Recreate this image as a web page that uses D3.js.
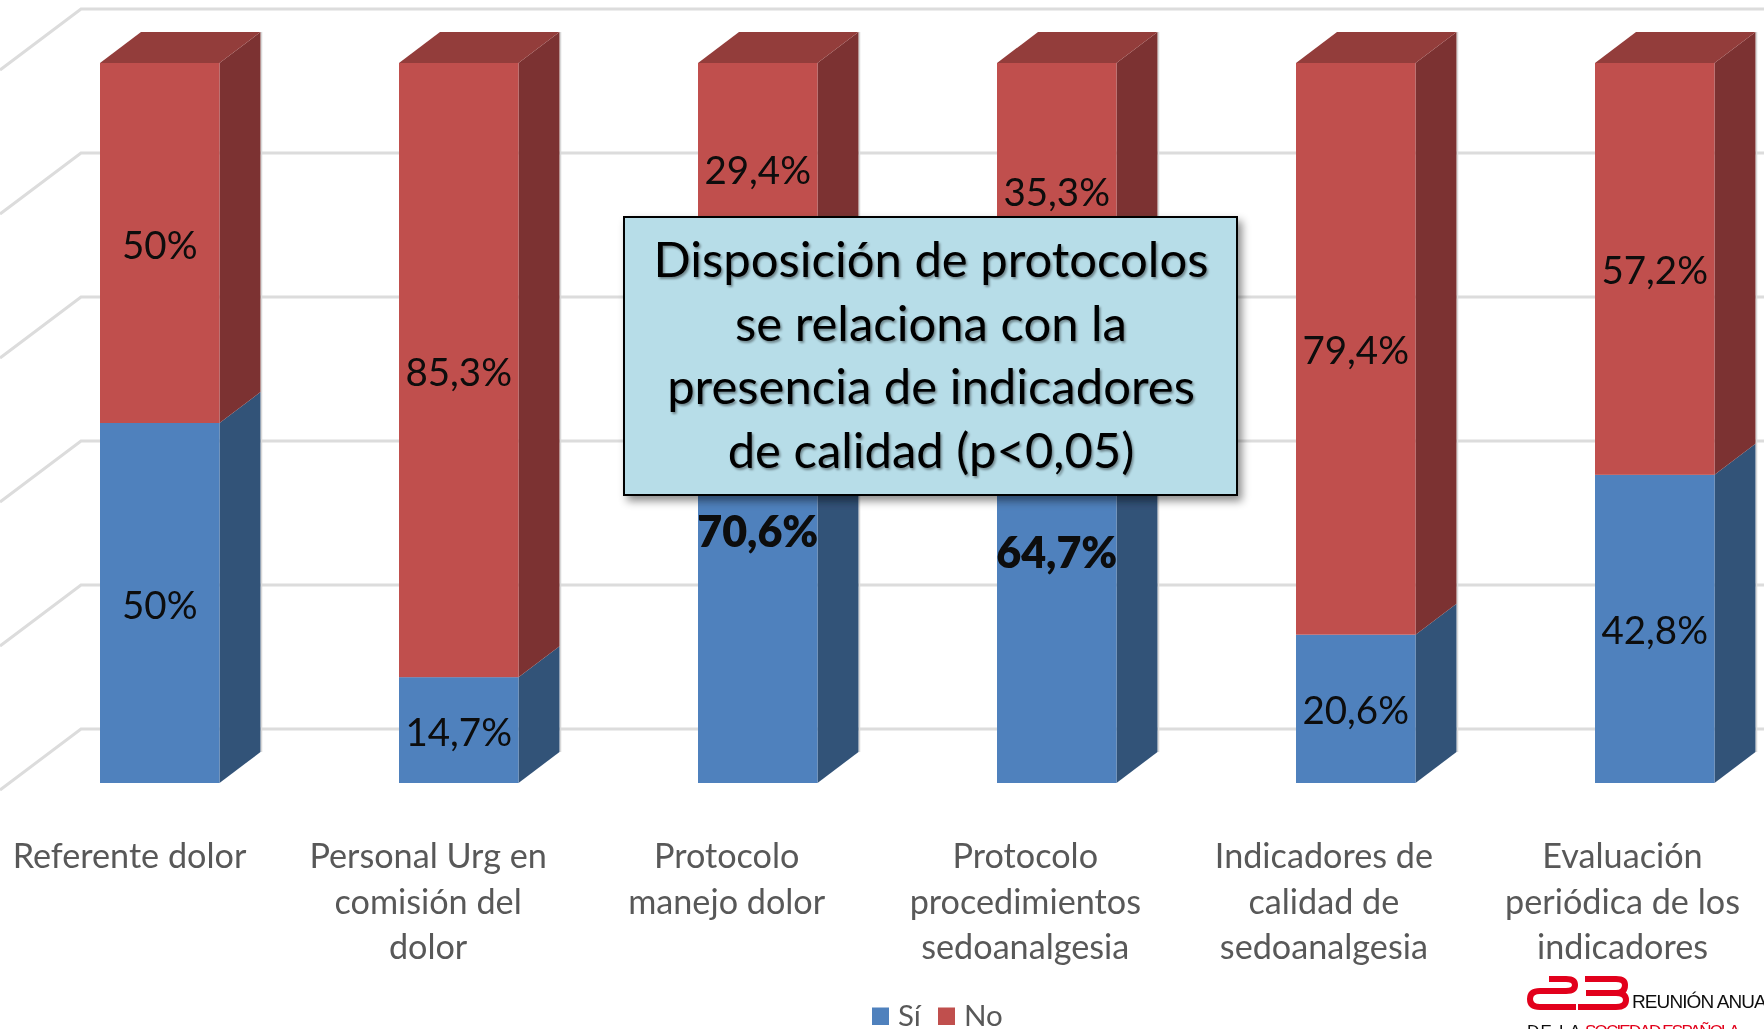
<!DOCTYPE html>
<html><head><meta charset="utf-8">
<style>html,body{margin:0;padding:0;background:#fff;overflow:hidden}svg{display:block}</style>
<script src="https://cdn.jsdelivr.net/npm/d3@7/dist/d3.min.js"></script>
</head><body><svg id="c" width="1764" height="1029"></svg>
<script>
const categories=[["Referente dolor"],["Personal Urg en","comisión del","dolor"],["Protocolo","manejo dolor"],["Protocolo","procedimientos","sedoanalgesia"],["Indicadores de","calidad de","sedoanalgesia"],["Evaluación","periódica de los","indicadores"]];
const siValues=[50,14.7,70.6,64.7,20.6,42.8];
const noValues=[50,85.3,29.4,35.3,79.4,57.2];
const siLabels=["50%","14,7%","70,6%","64,7%","20,6%","42,8%"];
const noLabels=["50%","85,3%","29,4%","35,3%","79,4%","57,2%"];
const boldSi=[false,false,true,true,false,false];
const gridTicks=[0,20,40,60,80,100];
const legendNames=["Sí","No"];
const calloutLines=["Disposición de protocolos","se relaciona con la","presencia de indicadores","de calidad (p<0,05)"];

const font="Lato, 'Open Sans', sans-serif";
const svg=d3.select("#c");
const defs=svg.append("defs");
defs.append("filter").attr("id","soft").append("feGaussianBlur").attr("stdDeviation",0.6);
const sh=defs.append("filter").attr("id","shadow").attr("x","-5%").attr("y","-5%").attr("width","112%").attr("height","115%");
sh.append("feDropShadow").attr("dx",4).attr("dy",5).attr("stdDeviation",4).attr("flood-color","#000").attr("flood-opacity",0.45);
const ts=defs.append("filter").attr("id","textshadow").attr("x","-5%").attr("y","-10%").attr("width","110%").attr("height","125%");
ts.append("feDropShadow").attr("dx",1.5).attr("dy",2).attr("stdDeviation",1.2).attr("flood-color","#000").attr("flood-opacity",0.4);

const idx=categories.map((d,i)=>i);
const barLeft=d3.scaleLinear().domain([0,5]).range([100,1595]);
const barW=119.5, dx=41, dy=31;
const yBar=d3.scaleLinear().domain([0,100]).range([783,63]);
const yWall=d3.scaleLinear().domain([0,100]).range([729,9]);
const xLabel=d3.scalePoint().domain(idx).range([129.5,1622.5]);

const root=svg.append("g").attr("filter","url(#soft)");
const grid=root.append("g");
grid.selectAll("path").data(gridTicks).join("path")
 .attr("d",v=>d3.line()([[1764,yWall(v)],[81,yWall(v)],[0,yWall(v)+61]]))
 .attr("fill","none").attr("stroke","#dcdcdc").attr("stroke-width",3);

const bars=root.append("g").selectAll("g").data(idx).join("g");
function poly(sel,ptsFn,fill){sel.append("polygon").attr("points",i=>ptsFn(i).map(p=>p.join(",")).join(" ")).attr("fill",fill);}
bars.append("line").attr("x1",i=>barLeft(i)+barW+dx+1).attr("x2",i=>barLeft(i)+barW+dx+1)
 .attr("y1",yBar(100)-dy).attr("y2",i=>yBar(0)-dy).attr("stroke","#d8d8d8").attr("stroke-width",1.5);
poly(bars,i=>{const X=barLeft(i)+barW,t=yBar(siValues[i]),b=yBar(0);return [[X,t],[X+dx,t-dy],[X+dx,b-dy],[X,b]];},"#325278");
bars.append("rect").attr("x",barLeft).attr("y",i=>yBar(siValues[i])).attr("width",barW).attr("height",i=>yBar(0)-yBar(siValues[i])).attr("fill","#4f81bd");
poly(bars,i=>{const X=barLeft(i)+barW,t=yBar(100),b=yBar(siValues[i]);return [[X,t],[X+dx,t-dy],[X+dx,b-dy],[X,b]];},"#7b3231");
poly(bars,i=>{const L=barLeft(i),t=yBar(100);return [[L,t],[L+barW,t],[L+barW+dx,t-dy],[L+dx,t-dy]];},"#933c3a");
bars.append("rect").attr("x",barLeft).attr("y",yBar(100)).attr("width",barW).attr("height",i=>yBar(100-noValues[i])-yBar(100)).attr("fill","#c0504d");
const lab=bars.append("g").attr("text-anchor","middle").attr("font-family",font).attr("fill","#0a0a0a");
lab.append("text").attr("x",i=>barLeft(i)+barW/2).attr("y",i=>(yBar(0)+yBar(siValues[i]))/2+(boldSi[i]?18:15.5)).attr("font-size",i=>boldSi[i]?43:38.5).attr("font-weight",i=>boldSi[i]?800:400).text(i=>siLabels[i]);
lab.append("text").attr("x",i=>barLeft(i)+barW/2).attr("y",i=>(yBar(100)+yBar(100-noValues[i]))/2+15.5).attr("font-size",38.5).text(i=>noLabels[i]);

const catG=root.append("g").attr("text-anchor","middle").attr("font-family",font).attr("font-size",34.2).attr("fill","#595959");
catG.selectAll("text").data(idx).join("text").attr("x",xLabel).attr("y",868).each(function(i){
  d3.select(this).selectAll("tspan").data(categories[i]).join("tspan").attr("x",xLabel(i)).attr("dy",(d,k)=>k?45.5:0).text(d=>d);
});

const legendColor=d3.scaleOrdinal().domain(legendNames).range(["#4f81bd","#c0504d"]);
const legendX=d3.scalePoint().domain(legendNames).range([872,938]);
const leg=root.append("g").selectAll("g").data(legendNames).join("g");
leg.append("rect").attr("x",d=>legendX(d)).attr("y",1007.5).attr("width",17).attr("height",17.5).attr("fill",d=>legendColor(d));
leg.append("text").attr("x",d=>legendX(d)+26).attr("y",1026).attr("font-family",font).attr("font-size",29.5).attr("fill","#595959").text(d=>d);

root.append("rect").attr("x",624).attr("y",217).attr("width",613).attr("height",278).attr("fill","#b7dde8").attr("stroke","#000").attr("stroke-width",2).attr("filter","url(#shadow)");
root.append("g").attr("filter","url(#textshadow)").attr("text-anchor","middle").attr("font-family",font).attr("font-size",49).attr("fill","#000")
 .selectAll("text").data(calloutLines).join("text").attr("x",931).attr("y",(d,i)=>277+i*63.7).text(d=>d);

const logo=svg.append("g").attr("filter","url(#soft)");
const red="#e2001a";
logo.append("path").attr("d","M1549 979 L1566 979 Q1575 979 1575 985 Q1575 991 1566 991 L1540 991 Q1530 991 1530 999 Q1530 1007 1540 1007 L1576 1007").attr("fill","none").attr("stroke",red).attr("stroke-width",6);
logo.append("path").attr("d","M1585 979 L1616 979 Q1625 979 1625 985 Q1625 993 1616 993 L1586 993 M1616 993 Q1626 993 1626 1000 Q1626 1007 1616 1007 L1578 1007").attr("fill","none").attr("stroke",red).attr("stroke-width",6);
logo.append("text").attr("x",1632).attr("y",1008).attr("font-family","Liberation Sans").attr("font-size",19).attr("letter-spacing",-0.9).attr("fill","#111").text("REUNIÓN ANUAL");
logo.append("text").attr("x",1527).attr("y",1037).attr("font-family","Liberation Sans").attr("font-size",17).attr("letter-spacing",1.2).attr("fill","#111").text("DE LA");
logo.append("text").attr("x",1585).attr("y",1037).attr("font-family","Liberation Sans").attr("font-size",17).attr("letter-spacing",-1.8).attr("fill",red).text("SOCIEDAD ESPAÑOLA");
</script></body></html>
